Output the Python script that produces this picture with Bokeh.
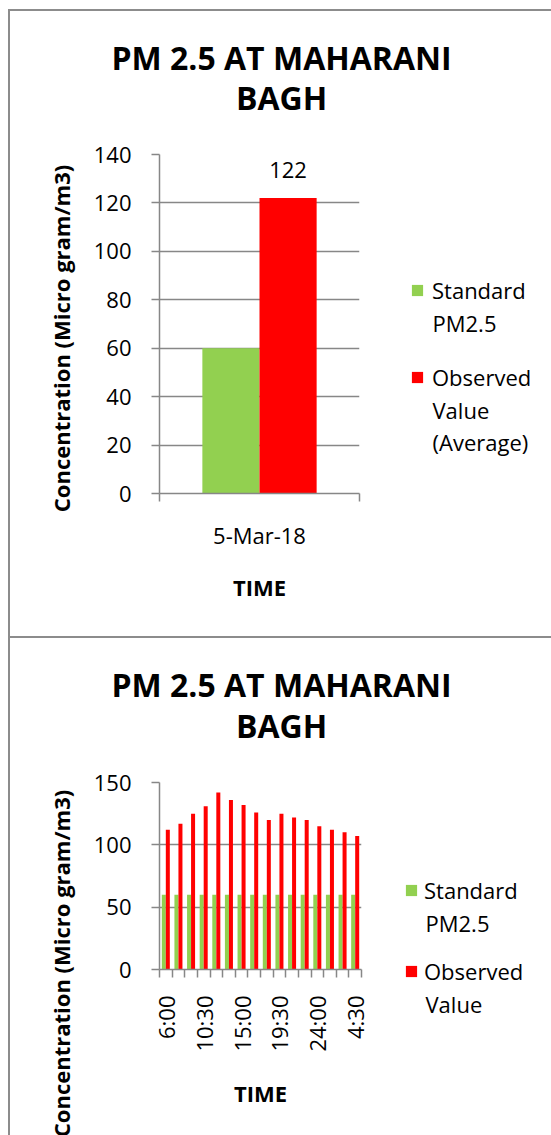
import math
from bokeh.plotting import figure
from bokeh.models import (Range1d, FixedTicker, Legend, LegendItem, Label, ColumnDataSource)
from bokeh.layouts import column, row
from bokeh.embed import file_html
from bokeh.resources import INLINE
from bokeh.core.properties import value

FONT = "Open Sans"
GREEN = "#92D050"
RED = "#FF0000"
GRID = "#878787"
BORDER = "#8c8c8c"

# ---- texts ----
title_line1 = "PM 2.5 AT MAHARANI"
title_line2 = "BAGH"
y_title = "Concentration (Micro gram/m3)"
x_title = "TIME"

# ---- chart 1: daily average ----
avg_dates = ["5-Mar-18"]
avg_standard = [60]
avg_observed = [122]
avg_yticks = [0, 20, 40, 60, 80, 100, 120, 140]
avg_legend = [["Standard", "PM2.5"], ["Observed", "Value", "(Average)"]]

# ---- chart 2: every 1.5 hours ----
times = ["6:00", "7:30", "9:00", "10:30", "12:00", "13:30", "15:00", "16:30",
         "18:00", "19:30", "21:00", "22:30", "24:00", "1:30", "3:00", "4:30"]
hourly_standard = [60, 60, 60, 60, 60, 60, 60, 60, 60, 60, 60, 60, 60, 60, 60, 60]
hourly_observed = [112, 117, 125, 131, 142, 136, 132, 126, 120, 125, 122, 120, 115, 112, 110, 107]
hourly_yticks = [0, 50, 100, 150]
hourly_legend = [["Standard", "PM2.5"], ["Observed", "Value"]]

TOTAL_W = 541
YT_W = 75
MAIN_W = 285
LEG_W = TOTAL_W - YT_W - MAIN_W


def blank_fig(w, h):
    p = figure(width=w, height=h, x_range=Range1d(0, w), y_range=Range1d(0, h),
               x_axis_location=None, y_axis_location=None, output_backend="svg",
               toolbar_location=None, title_location=None, min_border=0, frame_align=False)
    p.grid.visible = False
    p.outline_line_color = None
    p.background_fill_color = "white"
    p.border_fill_color = "white"
    return p


def title_fig(h, base1, base2):
    p = blank_fig(TOTAL_W, h)
    p.text(x=[271, 271], y=[h - base1, h - base2], text=[title_line1, title_line2],
           text_font=value(FONT), text_font_size="32px", text_font_style="bold",
           text_align="center", text_baseline="alphabetic", text_color="black")
    return p


def ytitle_fig(h, center_from_bottom):
    p = blank_fig(YT_W, h)
    p.text(x=[50], y=[center_from_bottom], text=[y_title], angle=math.pi / 2,
           text_font=value(FONT), text_font_size="22px", text_font_style="bold",
           text_align="center", text_baseline="middle", text_color="black")
    return p


def main_fig(cats, std, obs, yticks, ymax, height, mb_right, mb_top, mb_bottom,
             bar_w, label_step, tick_orient, tick_standoff, title_standoff):
    n = len(cats)
    p = figure(width=MAIN_W, height=height, x_range=Range1d(0, n), y_range=Range1d(0, ymax),
               output_backend="svg", toolbar_location=None, title_location=None,
               min_border_left=149 - YT_W, min_border_right=mb_right,
               min_border_top=mb_top, min_border_bottom=mb_bottom, frame_align=False)
    p.outline_line_color = None
    p.background_fill_color = "white"
    p.border_fill_color = "white"
    p.xgrid.visible = False
    p.ygrid.grid_line_color = GRID
    p.ygrid.grid_line_width = 1.5

    idx = list(range(n))
    src = ColumnDataSource(dict(
        xs=[i + 0.5 - bar_w / 2 for i in idx],
        xo=[i + 0.5 + bar_w / 2 for i in idx],
        std=std, obs=obs))
    p.vbar(x="xs", top="std", width=bar_w, source=src, fill_color=GREEN, line_color=None)
    p.vbar(x="xo", top="obs", width=bar_w, source=src, fill_color=RED, line_color=None)

    ya = p.yaxis[0]
    ya.ticker = FixedTicker(ticks=yticks)
    ya.axis_line_color = GRID
    ya.axis_line_width = 1.5
    ya.major_tick_line_color = GRID
    ya.major_tick_line_width = 1.5
    ya.major_tick_in = 0
    ya.major_tick_out = 8
    ya.minor_tick_line_color = None
    ya.major_label_text_font = FONT
    ya.major_label_text_font_size = "22px"
    ya.major_label_text_color = "black"
    ya.major_label_standoff = 20

    xa = p.xaxis[0]
    shown = list(range(0, n, label_step))
    xa.ticker = FixedTicker(ticks=[i + 0.5 for i in shown], minor_ticks=list(range(n + 1)))
    xa.major_label_overrides = {i + 0.5: cats[i] for i in shown}
    xa.axis_line_color = GRID
    xa.axis_line_width = 1.5
    xa.major_tick_line_color = None
    xa.major_tick_in = 0
    xa.major_tick_out = 8
    xa.minor_tick_line_color = GRID
    xa.minor_tick_line_width = 1.5
    xa.minor_tick_in = 0
    xa.minor_tick_out = 8
    xa.major_label_text_font = FONT
    xa.major_label_text_font_size = "22px"
    xa.major_label_text_color = "black"
    xa.major_label_standoff = tick_standoff
    xa.major_label_orientation = tick_orient
    xa.axis_label = x_title
    xa.axis_label_text_font = FONT
    xa.axis_label_text_font_size = "22px"
    xa.axis_label_text_font_style = "bold"
    xa.axis_label_text_color = "black"
    xa.axis_label_standoff = title_standoff
    return p


def legend_fig(h, labels, loc, spacing, standoff, extra_x, extra_y):
    p = blank_fig(LEG_W, h)
    # zero-height bars: they only carry the colours shown in the legend keys
    g = p.vbar(x=[0], top=[0], width=0.5, fill_color=GREEN, line_color=None)
    r = p.vbar(x=[0], top=[0], width=0.5, fill_color=RED, line_color=None)
    leg = Legend(items=[LegendItem(label=labels[0][0], renderers=[g]),
                        LegendItem(label=labels[1][0], renderers=[r])],
                 location=loc, glyph_width=14, glyph_height=14, label_height=30,
                 label_standoff=standoff, spacing=spacing,
                 padding=0, margin=0, border_line_color=None, background_fill_alpha=0,
                 label_text_font=FONT, label_text_font_size="22px", label_text_color="black")
    p.add_layout(leg)
    extra = labels[0][1:] + labels[1][1:]
    for txt, yy in zip(extra, extra_y):
        p.add_layout(Label(x=extra_x, y=yy, text=txt, text_font=FONT, text_font_size="22px",
                           text_baseline="middle", text_align="left", text_color="black"))
    return p


def chart(title_h, base1, base2, yt, main, leg):
    return column(title_fig(title_h, base1, base2), row(yt, main, leg, spacing=0), spacing=0,
                  styles={"border-top": f"2px solid {BORDER}", "border-left": f"2px solid {BORDER}"})


# ---------------- chart 1 ----------------
m1 = main_fig(avg_dates, avg_standard, avg_observed, avg_yticks, 140,
              height=500, mb_right=11, mb_top=18, mb_bottom=143,
              bar_w=0.2857, label_step=1, tick_orient="horizontal",
              tick_standoff=18, title_standoff=19)
m1.text(x=[0.5 + 0.2857 / 2], y=avg_observed, text=[str(v) for v in avg_observed],
        text_font=value(FONT), text_font_size="22px", text_align="center",
        text_baseline="alphabetic", y_offset=-28, text_color="black")
l1 = legend_fig(500, avg_legend, loc=(40, 244), spacing=57, standoff=8,
                extra_x=62, extra_y=[314, 227, 195])
c1 = chart(125, 46, 86, ytitle_fig(500, 298), m1, l1)

# ---------------- chart 2 ----------------
m2 = main_fig(times, hourly_standard, hourly_observed, hourly_yticks, 150,
              height=375, mb_right=9, mb_top=22, mb_bottom=166,
              bar_w=0.318, label_step=3, tick_orient=math.pi / 2,
              tick_standoff=18, title_standoff=23)
l2 = legend_fig(375, hourly_legend, loc=(34, 149), spacing=51, standoff=6,
                extra_x=55, extra_y=[213, 132])
c2 = chart(122, 46, 87, ytitle_fig(375, 172), m2, l2)

layout = column(c1, c2, spacing=0, margin=(9, 0, 0, 8))
open("out.html", "w").write(file_html(layout, INLINE))
